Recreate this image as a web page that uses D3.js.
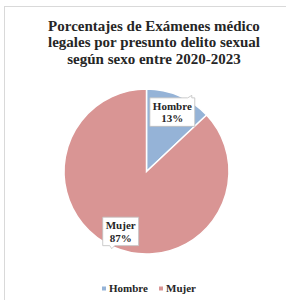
<!DOCTYPE html>
<html>
<head>
<meta charset="utf-8">
<script src="https://cdn.jsdelivr.net/npm/d3@7"></script>
<style>
  body { margin: 0; background: #fff; }
  text { font-family: "Liberation Serif", serif; font-weight: bold; fill: #262626; }
</style>
</head>
<body>
<script>
// data
var categories = ["Hombre", "Mujer"];
var values = [13, 87];
var colors = ["#95b3d7", "#d99594"];
var titleLines = ["Porcentajes de Exámenes médico", "legales por presunto delito sexual", "según sexo entre 2020-2023"];

var width = 286, height = 300;
var cx = 146.5, cy = 171.5, radius = 82.5;

var svg = d3.select("body").append("svg")
    .attr("width", width)
    .attr("height", height);

// chart area border (runs off the right / bottom edge)
svg.append("rect")
    .attr("x", 4.5).attr("y", 6.5)
    .attr("width", 300).attr("height", 310)
    .attr("fill", "none")
    .attr("stroke", "#d9d9d9");

svg.append("g").selectAll("text")
    .data(titleLines)
  .enter().append("text")
    .attr("x", 154)
    .attr("y", function(d, i) { return 30.5 + i * 16.5; })
    .attr("text-anchor", "middle")
    .style("font-size", "15px")
    .text(function(d) { return d; });

var pie = d3.pie().sort(null).value(function(d) { return d; });
var arcs = pie(values);

var arc = d3.arc().innerRadius(0).outerRadius(radius);
var labelArc = d3.arc().innerRadius(65).outerRadius(65);

var g = svg.append("g").attr("transform", "translate(" + cx + "," + cy + ")");

g.selectAll("path")
    .data(arcs)
  .enter().append("path")
    .attr("d", arc)
    .attr("fill", function(d, i) { return colors[i]; })
    .attr("stroke", "#fff")
    .attr("stroke-width", 1.5);

// data labels in callout boxes
var lab = g.selectAll(".lab")
    .data(arcs)
  .enter().append("g")
    .attr("class", "lab")
    .attr("transform", function(d) { return "translate(" + labelArc.centroid(d) + ")"; });

lab.append("rect").attr("class", "box");

lab.append("text")
    .attr("text-anchor", "middle")
    .style("font-size", "11px")
    .attr("y", -2)
    .text(function(d, i) { return categories[i]; });
lab.append("text")
    .attr("text-anchor", "middle")
    .style("font-size", "11px")
    .attr("y", 10.5)
    .text(function(d) { return d.value + "%"; });

lab.each(function(d, i) {
  var node = d3.select(this);
  var w = 0;
  node.selectAll("text").each(function() { w = Math.max(w, this.getComputedTextLength()); });
  var bw = w + 6, bh = 28.5;
  var x0 = -bw / 2, y0 = -14, x1 = bw / 2, y1 = y0 + bh;
  var p;
  if (i === 0) {
    // pointer at top-right corner
    p = [[x0, y0], [x1 - 7, y0], [x1 - 3, y0 - 2.5], [x1 - 3, y0], [x1, y0], [x1, y1], [x0, y1]];
  } else {
    // pointer at bottom, left of centre
    p = [[x0, y0], [x1, y0], [x1, y1], [x0 + 12, y1], [x0 + 9, y1 + 3], [x0 + 7, y1], [x0, y1]];
  }
  node.select("rect").remove();
  node.insert("path", "text")
      .attr("d", d3.line()(p) + "Z")
      .attr("fill", "#fff")
      .attr("stroke", "#bfbfbf")
      .attr("stroke-width", 0.8);
});

// legend
var legendX = [102, 159];
var legend = svg.append("g").selectAll("g")
    .data(categories)
  .enter().append("g")
    .attr("transform", function(d, i) { return "translate(" + legendX[i] + ",292)"; });

legend.append("rect")
    .attr("x", 0).attr("y", -5.5)
    .attr("width", 4).attr("height", 4)
    .attr("fill", function(d, i) { return colors[i]; });

legend.append("text")
    .attr("x", 7)
    .style("font-size", "11px")
    .text(function(d) { return d; });
</script>
</body>
</html>
